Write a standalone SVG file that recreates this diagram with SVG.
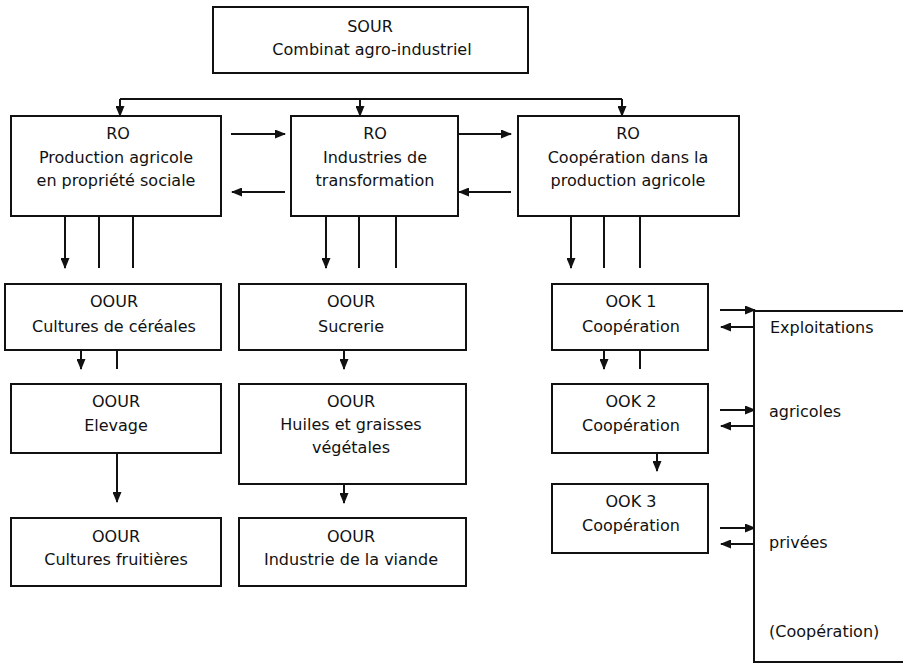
<svg xmlns="http://www.w3.org/2000/svg" width="903" height="663" viewBox="0 0 903 663">
<style>
.box{fill:#fff;stroke:#111;stroke-width:2}
.ln{fill:none;stroke:#111;stroke-width:2}
.ar{fill:none;stroke:#111;stroke-width:2;marker-end:url(#ah)}
text{font-family:"DejaVu Sans","Liberation Sans",sans-serif;font-size:16px;fill:#111;text-anchor:middle}
.l{text-anchor:start}
</style>
<defs>
<marker id="ah" markerUnits="userSpaceOnUse" markerWidth="11" markerHeight="9" refX="10" refY="4.5" orient="auto">
<path d="M0,0 L11,4.5 L0,9 z" fill="#111"/>
</marker>
</defs>
<rect width="903" height="663" fill="#fff"/>
<g id="connectors">
<path class="ln" d="M120,99 H622"/>
<path class="ar" d="M120,99 V116"/>
<path class="ar" d="M360,99 V116"/>
<path class="ar" d="M622,99 V116"/>
<path class="ar" d="M231,134 H285"/>
<path class="ar" d="M285,192 H232"/>
<path class="ar" d="M458,134 H511"/>
<path class="ar" d="M511,192 H459"/>
<path class="ar" d="M65,216 V268"/>
<path class="ln" d="M99,216 V268"/>
<path class="ln" d="M133,216 V268"/>
<path class="ar" d="M326,216 V268"/>
<path class="ln" d="M359,216 V268"/>
<path class="ln" d="M396,216 V268"/>
<path class="ar" d="M571,216 V268"/>
<path class="ln" d="M604,216 V268"/>
<path class="ln" d="M640,216 V268"/>
<path class="ar" d="M81,350 V369"/>
<path class="ln" d="M117,350 V369"/>
<path class="ar" d="M344,350 V369"/>
<path class="ar" d="M604,350 V369"/>
<path class="ln" d="M640,350 V369"/>
<path class="ar" d="M117,453 V502"/>
<path class="ar" d="M344,484 V503"/>
<path class="ar" d="M657,453 V471"/>
<path class="ar" d="M720,310 H755"/>
<path class="ar" d="M754,327 H721"/>
<path class="ar" d="M720,410 H755"/>
<path class="ar" d="M754,426 H721"/>
<path class="ar" d="M720,528 H755"/>
<path class="ar" d="M754,544 H721"/>
</g>
<g id="sour">
<rect class="box" x="213" y="7" width="315" height="66"/>
<text x="370" y="32">SOUR</text>
<text x="372" y="55">Combinat agro-industriel</text>
</g>
<g id="ro1">
<rect class="box" x="11" y="116" width="210" height="100"/>
<text x="118" y="139">RO</text>
<text x="116" y="163">Production agricole</text>
<text x="116" y="186">en propriété sociale</text>
</g>
<g id="ro2">
<rect class="box" x="291" y="116" width="167" height="100"/>
<text x="375" y="139">RO</text>
<text x="375" y="163">Industries de</text>
<text x="375" y="186">transformation</text>
</g>
<g id="ro3">
<rect class="box" x="518" y="116" width="221" height="100"/>
<text x="628" y="139">RO</text>
<text x="628" y="163">Coopération dans la</text>
<text x="628" y="186">production agricole</text>
</g>
<g id="oour-cereales">
<rect class="box" x="5" y="284" width="216" height="66"/>
<text x="114" y="307">OOUR</text>
<text x="114" y="332">Cultures de céréales</text>
</g>
<g id="oour-sucrerie">
<rect class="box" x="239" y="284" width="227" height="66"/>
<text x="351" y="307">OOUR</text>
<text x="351" y="332">Sucrerie</text>
</g>
<g id="ook1">
<rect class="box" x="552" y="284" width="156" height="66"/>
<text x="631" y="307">OOK 1</text>
<text x="631" y="332">Coopération</text>
</g>
<g id="oour-elevage">
<rect class="box" x="11" y="384" width="210" height="69"/>
<text x="116" y="407">OOUR</text>
<text x="116" y="431">Elevage</text>
</g>
<g id="oour-huiles">
<rect class="box" x="239" y="384" width="227" height="100"/>
<text x="351" y="407">OOUR</text>
<text x="351" y="430">Huiles et graisses</text>
<text x="351" y="453">végétales</text>
</g>
<g id="ook2">
<rect class="box" x="552" y="384" width="156" height="69"/>
<text x="631" y="407">OOK 2</text>
<text x="631" y="431">Coopération</text>
</g>
<g id="ook3">
<rect class="box" x="552" y="484" width="156" height="69"/>
<text x="631" y="507">OOK 3</text>
<text x="631" y="531">Coopération</text>
</g>
<g id="oour-fruitieres">
<rect class="box" x="11" y="518" width="210" height="68"/>
<text x="116" y="542">OOUR</text>
<text x="116" y="565">Cultures fruitières</text>
</g>
<g id="oour-viande">
<rect class="box" x="239" y="518" width="227" height="68"/>
<text x="351" y="542">OOUR</text>
<text x="351" y="565">Industrie de la viande</text>
</g>
<g id="exploitations">
<path class="box" d="M906,311 H754 V662 H906"/>
<text class="l" x="770" y="333">Exploitations</text>
<text class="l" x="769" y="417">agricoles</text>
<text class="l" x="769" y="548">privées</text>
<text class="l" x="769" y="637">(Coopération)</text>
</g>
</svg>
